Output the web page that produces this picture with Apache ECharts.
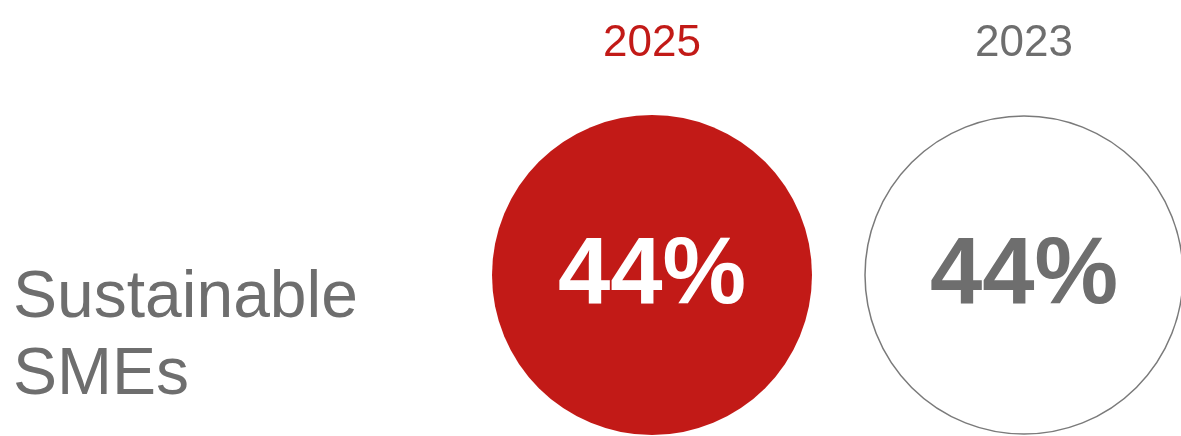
<!DOCTYPE html>
<html>
<head>
<meta charset="utf-8">
<script src="https://cdn.jsdelivr.net/npm/echarts@6/dist/echarts.min.js"></script>
<style>
  html, body { margin: 0; padding: 0; background: #fff; }
  #chart { width: 1181px; height: 436px; }
</style>
</head>
<body>
<div id="chart"></div>
<script>
// data
const years = ['2025', '2023']
const rows = ['Sustainable\nSMEs']
const shares = [44, 44]

const RED = '#c21a17'
const GREY = '#6e6e6e'
const font = '"Liberation Sans", Arial, Helvetica, sans-serif'

const chart = echarts.init(document.getElementById('chart'))

const points = shares.map((v, i) => {
  const filled = i === 0
  return {
    value: [i, 0, v],
    symbolSize: filled ? 320 : 318,
    itemStyle: filled
      ? { color: RED, opacity: 1 }
      : { color: '#fff', borderColor: '#7a7a7a', borderWidth: 1.5, opacity: 1 },
    label: { color: filled ? '#fff' : GREY },
  }
})

const option = {
  backgroundColor: '#fff',
  animation: false,
  // row label sits lower than the circle centre, so it goes in a title
  title: {
    text: rows[0],
    left: 13,
    top: 260,
    padding: 0,
    textStyle: {
      fontSize: 66,
      lineHeight: 77,
      fontWeight: 'normal',
      fontFamily: font,
      color: GREY,
    },
  },
  grid: { left: 652, right: 157, top: 115, bottom: 1 },
  xAxis: {
    type: 'category',
    position: 'top',
    data: years,
    boundaryGap: false,
    axisLine: { show: false },
    axisTick: { show: false },
    splitLine: { show: false },
    axisLabel: {
      margin: 49,
      fontSize: 44,
      fontFamily: font,
      color: (val, idx) => (idx === 0 ? RED : GREY),
    },
  },
  yAxis: {
    type: 'category',
    data: rows,
    axisLine: { show: false },
    axisTick: { show: false },
    splitLine: { show: false },
    axisLabel: { show: false },
  },
  series: [
    {
      type: 'scatter',
      clip: false,
      data: points,
      label: {
        show: true,
        position: 'inside',
        formatter: (p) => p.value[2] + '%',
        fontSize: 94,
        fontWeight: 'bold',
        fontFamily: font,
        offset: [0, 2],
      },
      emphasis: { disabled: true },
    },
  ],
}

chart.setOption(option)
</script>
</body>
</html>
